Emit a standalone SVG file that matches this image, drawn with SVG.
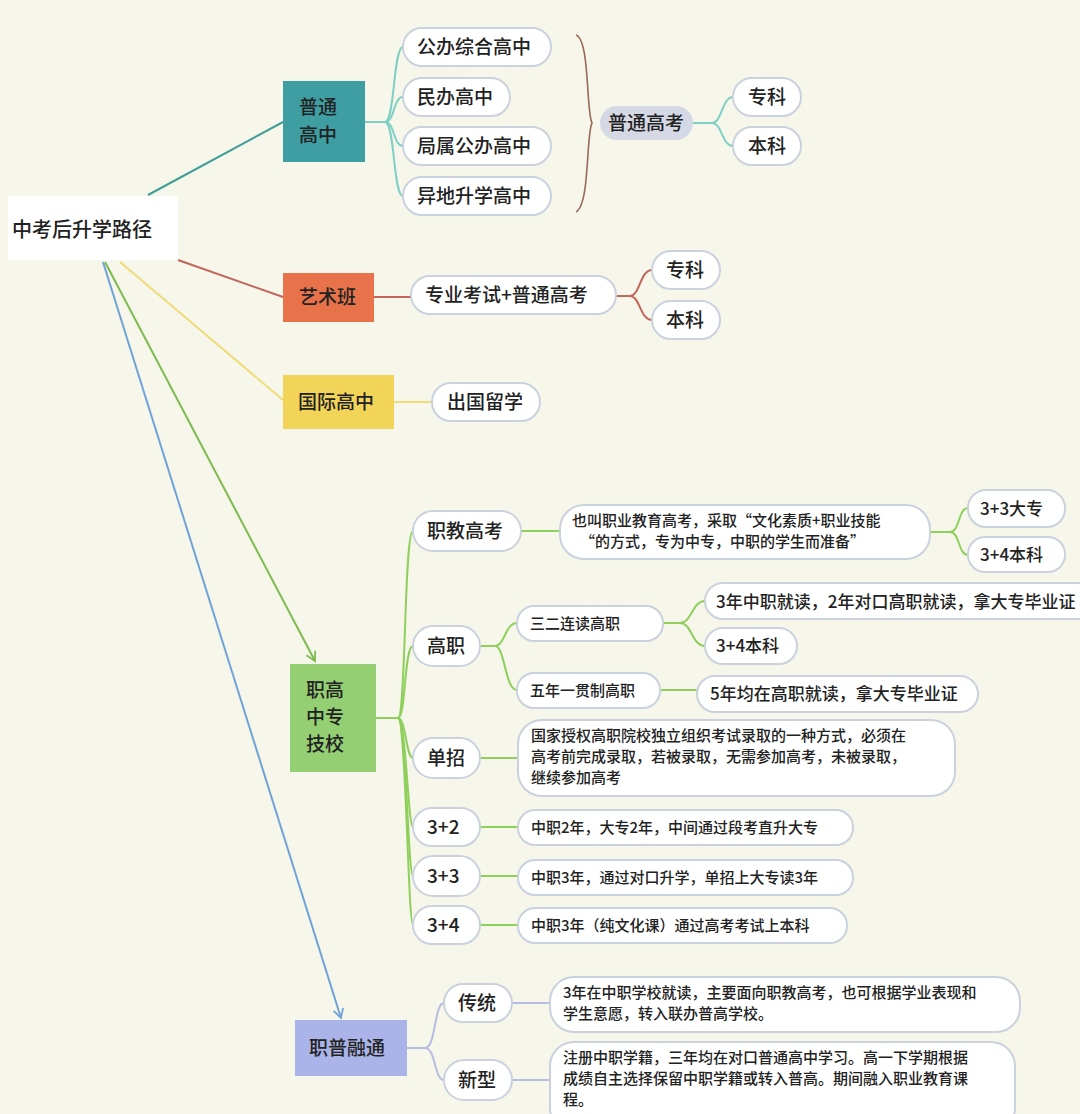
<svg xmlns="http://www.w3.org/2000/svg" width="1080" height="1114" viewBox="0 0 1080 1114">
<style>
text{font-family:"Noto Sans CJK SC","Liberation Sans",sans-serif;fill:#222;font-weight:500}
.p{fill:#fff;stroke:#c9d2dd;stroke-width:2}
.t{font-size:19px}
.s{font-size:15px}
.m{font-size:17px}
.c{fill:none;stroke-width:2}
</style>
<defs>
<marker id="ag" viewBox="0 0 12 12" refX="10" refY="6" markerWidth="12" markerHeight="12" orient="auto" markerUnits="userSpaceOnUse"><path d="M1 1L10 6L1 11" fill="none" stroke="#7dbb4f" stroke-width="1.8"/></marker>
<marker id="ab" viewBox="0 0 12 12" refX="10" refY="6" markerWidth="12" markerHeight="12" orient="auto" markerUnits="userSpaceOnUse"><path d="M1 1L10 6L1 11" fill="none" stroke="#6fa3d8" stroke-width="1.8"/></marker>
</defs>
<rect width="1080" height="1114" fill="#f7f6ea"/>
<g id="connectors">
<path class="c" stroke="#3f9e96" d="M148 195L283 122"/>
<path class="c" stroke="#c0665a" d="M178 260L283 297"/>
<path class="c" stroke="#eedc78" d="M120 262L283 400"/>
<path class="c" stroke="#7dbb4f" d="M105 262L315 661" marker-end="url(#ag)"/>
<path class="c" stroke="#6fa3d8" d="M103 262L341 1018" marker-end="url(#ab)"/>
<g stroke="#7fd0c4" class="c">
<path d="M365 122H385"/>
<path d="M385 122C395 122 393 47 403 47"/>
<path d="M385 122C395 122 393 97 403 97"/>
<path d="M385 122C395 122 393 146 403 146"/>
<path d="M385 122C395 122 393 196 403 196"/>
<path d="M693 123H712C722 123 722 97 733 97M712 123C722 123 722 146 733 146"/>
</g>
<path d="M576 35C590 40 586 112 592 123C586 134 590 205 576 212" fill="none" stroke="#9a6a5a" stroke-width="1.6"/>
<g stroke="#c0665a" class="c">
<path d="M374 297H411"/>
<path d="M616 296H630C640 296 640 270 652 270M630 296C640 296 640 320 652 320"/>
</g>
<path class="c" stroke="#eedc78" d="M394 402H432"/>
<g stroke="#8fcf5c" class="c">
<path d="M376 718H398"/>
<path d="M398 718C406 718 404 531 413 531"/>
<path d="M398 718C406 718 404 646 413 646"/>
<path d="M398 718C406 718 406 758 413 758"/>
<path d="M398 718C406 718 408 827 413 827"/>
<path d="M398 718C406 718 408 876 413 876"/>
<path d="M398 718C406 718 408 925 413 925"/>
<path d="M521 531H560"/>
<path d="M930 532H950C960 532 958 508 968 508M950 532C960 532 958 555 968 555"/>
<path d="M480 646H495C505 646 505 623 517 623M495 646C505 646 505 690 517 690"/>
<path d="M663 623H680C692 623 692 601 705 601M680 623C692 623 692 646 705 646"/>
<path d="M660 690H697"/>
<path d="M480 758H518"/>
<path d="M480 827H518"/>
<path d="M480 876H518"/>
<path d="M480 925H518"/>
</g>
<g stroke="#b7bde0" class="c">
<path d="M407 1048H425C436 1048 434 1003 444 1003M425 1048C436 1048 434 1080 444 1080"/>
<path d="M512 1003H550"/>
<path d="M512 1080H550"/>
</g>
</g>
<g id="root"><rect x="8" y="196" width="170" height="64" fill="#fff"/><text x="12" y="237" font-size="20">中考后升学路径</text></g>
<g id="putong"><rect x="283" y="81" width="82" height="81" fill="#3f9ea1"/><text x="299" y="114" class="t">普通</text><text x="299" y="142" class="t">高中</text></g>
<g id="n1"><rect class="p" x="403" y="28" width="148" height="38" rx="19"/><text x="417" y="54" class="t">公办综合高中</text></g>
<g id="n2"><rect class="p" x="403" y="78" width="107" height="38" rx="19"/><text x="417" y="104" class="t">民办高中</text></g>
<g id="n3"><rect class="p" x="403" y="127" width="148" height="38" rx="19"/><text x="417" y="153" class="t">局属公办高中</text></g>
<g id="n4"><rect class="p" x="403" y="177" width="148" height="38" rx="19"/><text x="417" y="203" class="t">异地升学高中</text></g>
<g id="gaokao"><rect x="600" y="106" width="93" height="34" rx="17" fill="#d5d9e6"/><text x="608" y="130" class="t">普通高考</text></g>
<g id="zk1"><rect class="p" x="733" y="78" width="68" height="38" rx="19"/><text x="748" y="104" class="t">专科</text></g>
<g id="bk1"><rect class="p" x="733" y="127" width="68" height="38" rx="19"/><text x="748" y="153" class="t">本科</text></g>
<g id="yishu"><rect x="283" y="273" width="91" height="49" fill="#e8734a"/><text x="299" y="304" class="t">艺术班</text></g>
<g id="zhuanye"><rect class="p" x="411" y="276" width="205" height="38" rx="19"/><text x="425" y="302" class="t">专业考试+普通高考</text></g>
<g id="zk2"><rect class="p" x="652" y="251" width="68" height="38" rx="19"/><text x="666" y="277" class="t">专科</text></g>
<g id="bk2"><rect class="p" x="652" y="301" width="68" height="38" rx="19"/><text x="666" y="327" class="t">本科</text></g>
<g id="guoji"><rect x="283" y="375" width="111" height="54" fill="#f2d458"/><text x="298" y="409" class="t">国际高中</text></g>
<g id="liuxue"><rect class="p" x="432" y="383" width="108" height="38" rx="19"/><text x="447" y="409" class="t">出国留学</text></g>
<g id="zhigao"><rect x="290" y="664" width="86" height="108" fill="#95cf74"/><text x="306" y="697" class="t">职高</text><text x="306" y="724" class="t">中专</text><text x="306" y="751" class="t">技校</text></g>
<g id="zjgk"><rect class="p" x="413" y="511" width="108" height="40" rx="20"/><text x="427" y="538" class="t">职教高考</text></g>
<g id="zjgkd"><rect class="p" x="560" y="505" width="370" height="54" rx="24"/><text x="572" y="526" class="s">也叫职业教育高考，采取“文化素质+职业技能</text><text x="580" y="547" class="s">“的方式，专为中专，中职的学生而准备”</text></g>
<g id="d33"><rect class="p" x="968" y="490" width="97" height="37" rx="18"/><text x="980" y="515" class="m">3+3大专</text></g>
<g id="b34a"><rect class="p" x="968" y="537" width="97" height="35" rx="17"/><text x="980" y="561" class="m">3+4本科</text></g>
<g id="gaozhi"><rect class="p" x="413" y="626" width="67" height="40" rx="20"/><text x="427" y="653" class="t">高职</text></g>
<g id="sanr"><rect class="p" x="517" y="606" width="146" height="35" rx="17"/><text x="530" y="629" class="s">三二连读高职</text></g>
<g id="sanrd"><rect class="p" x="705" y="583" width="390" height="36" rx="18"/><text x="716" y="608" class="m">3年中职就读，2年对口高职就读，拿大专毕业证</text></g>
<g id="b34b"><rect class="p" x="705" y="628" width="92" height="36" rx="18"/><text x="716" y="652" class="m">3+4本科</text></g>
<g id="wunian"><rect class="p" x="517" y="673" width="143" height="35" rx="17"/><text x="530" y="696" class="s">五年一贯制高职</text></g>
<g id="wuniand"><rect class="p" x="697" y="676" width="281" height="36" rx="18"/><text x="710" y="700" class="m">5年均在高职就读，拿大专毕业证</text></g>
<g id="danzhao"><rect class="p" x="413" y="738" width="67" height="40" rx="20"/><text x="427" y="765" class="t">单招</text></g>
<g id="danzhaod"><rect class="p" x="518" y="720" width="437" height="76" rx="24"/><text x="531" y="741" class="s">国家授权高职院校独立组织考试录取的一种方式，必须在</text><text x="531" y="762" class="s">高考前完成录取，若被录取，无需参加高考，未被录取，</text><text x="531" y="783" class="s">继续参加高考</text></g>
<g id="n32"><rect class="p" x="413" y="808" width="67" height="38" rx="19"/><text x="427" y="834" class="t">3+2</text></g>
<g id="n32d"><rect class="p" x="518" y="810" width="335" height="35" rx="17"/><text x="531" y="833" class="s">中职2年，大专2年，中间通过段考直升大专</text></g>
<g id="n33"><rect class="p" x="413" y="856" width="67" height="40" rx="20"/><text x="427" y="883" class="t">3+3</text></g>
<g id="n33d"><rect class="p" x="518" y="860" width="335" height="35" rx="17"/><text x="531" y="883" class="s">中职3年，通过对口升学，单招上大专读3年</text></g>
<g id="n34"><rect class="p" x="413" y="906" width="67" height="38" rx="19"/><text x="427" y="932" class="t">3+4</text></g>
<g id="n34d"><rect class="p" x="518" y="908" width="329" height="35" rx="17"/><text x="531" y="931" class="s">中职3年（纯文化课）通过高考考试上本科</text></g>
<g id="zhipu"><rect x="295" y="1020" width="112" height="56" fill="#aab4e8"/><text x="309" y="1055" class="t">职普融通</text></g>
<g id="chuantong"><rect class="p" x="444" y="984" width="68" height="38" rx="19"/><text x="458" y="1010" class="t">传统</text></g>
<g id="chuantongd"><rect class="p" x="550" y="977" width="470" height="55" rx="24"/><text x="563" y="998" class="s">3年在中职学校就读，主要面向职教高考，也可根据学业表现和</text><text x="563" y="1019" class="s">学生意愿，转入联办普高学校。</text></g>
<g id="xinxing"><rect class="p" x="444" y="1060" width="68" height="40" rx="20"/><text x="458" y="1087" class="t">新型</text></g>
<g id="xinxingd"><rect class="p" x="550" y="1042" width="465" height="90" rx="24"/><text x="563" y="1063" class="s">注册中职学籍，三年均在对口普通高中学习。高一下学期根据</text><text x="563" y="1084" class="s">成绩自主选择保留中职学籍或转入普高。期间融入职业教育课</text><text x="563" y="1105" class="s">程。</text></g>
</svg>
